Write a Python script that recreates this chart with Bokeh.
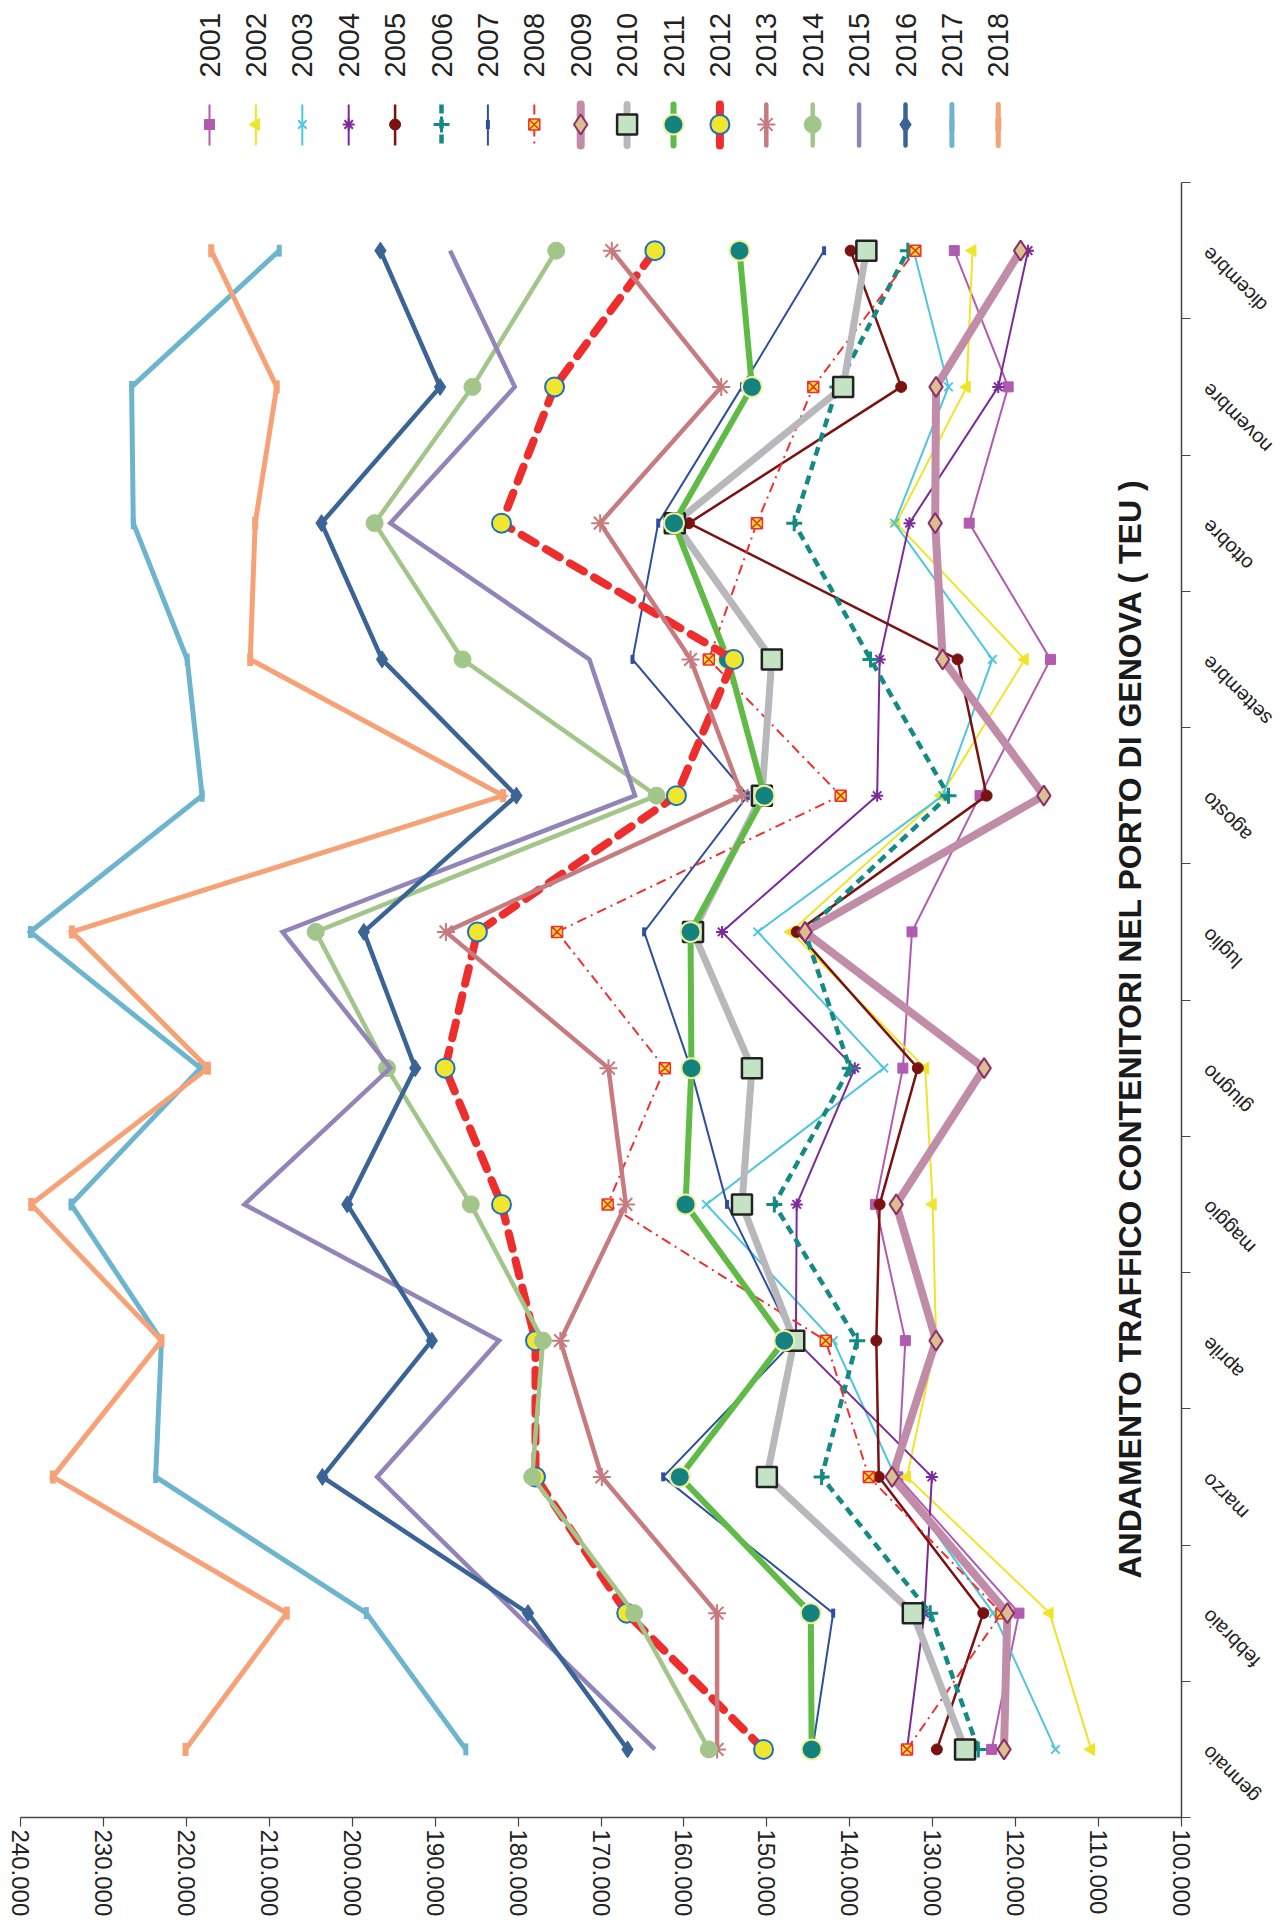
import math
from bokeh.plotting import figure
from bokeh.models import Range1d, FixedTicker, Label
from bokeh.layouts import column, row
from bokeh.embed import file_html
from bokeh.resources import INLINE
from bokeh.core.properties import value

# ---------------- data (thousand TEU) ----------------
months = ["gennaio", "febbraio", "marzo", "aprile", "maggio", "giugno",
          "luglio", "agosto", "settembre", "ottobre", "novembre", "dicembre"]

teu_2001 = [122.9, 119.6, 134.2, 133.3, 136.9, 133.6, 132.5, 124.3, 115.8, 125.6, 120.9, 127.4]
teu_2002 = [110.9, 115.9, 133.1, 129.6, 130.0, 130.9, 147.1, 129.0, 118.9, 134.4, 125.9, 125.2]
teu_2003 = [115.2, 122.7, 134.5, 142.0, 157.3, 135.9, 151.1, 128.8, 122.8, 134.6, 128.1, 132.3]
teu_2004 = [133.1, 131.0, 130.1, 146.5, 146.4, 139.4, 155.4, 136.7, 136.4, 132.8, 122.1, 118.5]
teu_2005 = [129.5, 123.9, 136.5, 136.8, 136.4, 131.8, 146.4, 123.5, 127.0, 159.4, 133.8, 139.9]
teu_2006 = [124.5, 130.3, 143.4, 139.1, 149.1, 140.0, 145.4, 128.1, 137.5, 146.7, 141.5, 133.0]
teu_2007 = [144.5, 142.0, 162.5, 146.7, 154.8, 159.2, 164.8, 152.3, 166.2, 163.1, 153.0, 143.1]
teu_2008 = [133.1, 121.7, 137.7, 142.9, 169.2, 162.3, 175.3, 141.1, 157.0, 151.2, 144.4, 132.1]
teu_2009 = [121.4, 121.0, 134.9, 129.6, 134.4, 123.8, 145.4, 116.6, 128.8, 129.7, 129.6, 119.4]
teu_2010 = [126.1, 132.4, 150.0, 146.7, 153.0, 151.8, 158.9, 150.6, 149.4, 161.1, 140.8, 138.0]
teu_2011 = [144.6, 144.7, 160.5, 147.9, 159.8, 159.1, 159.2, 150.3, 154.7, 161.2, 151.8, 153.3]
teu_2012 = [150.4, 166.9, 177.9, 177.9, 182.0, 188.8, 184.9, 160.9, 154.0, 182.0, 175.6, 163.5]
teu_2013 = [156.0, 156.0, 169.9, 174.9, 167.0, 169.1, 188.7, 153.0, 159.2, 170.1, 155.5, 168.7]
teu_2014 = [157.0, 166.0, 178.3, 177.0, 185.7, 195.8, 204.4, 163.3, 186.7, 197.3, 185.5, 175.4]
teu_2015 = [163.5, 180.3, 197.0, 182.3, 213.0, 195.4, 208.4, 165.9, 171.4, 195.4, 180.4, 188.2]
teu_2016 = [166.8, 178.8, 203.6, 190.4, 200.6, 192.4, 198.6, 180.2, 196.4, 203.7, 189.4, 196.6]
teu_2017 = [186.3, 198.3, 223.7, 223.0, 233.9, 218.3, 238.8, 218.1, 219.9, 226.4, 226.6, 208.8]
teu_2018 = [220.1, 207.9, 236.1, 223.0, 238.7, 217.4, 233.8, 181.8, 212.3, 211.7, 209.1, 217.0]

years = [2001, 2002, 2003, 2004, 2005, 2006, 2007, 2008, 2009,
         2010, 2011, 2012, 2013, 2014, 2015, 2016, 2017, 2018]
series = [teu_2001, teu_2002, teu_2003, teu_2004, teu_2005, teu_2006, teu_2007, teu_2008, teu_2009,
          teu_2010, teu_2011, teu_2012, teu_2013, teu_2014, teu_2015, teu_2016, teu_2017, teu_2018]

value_ticks = [100, 110, 120, 130, 140, 150, 160, 170, 180, 190, 200, 210, 220, 230, 240]
value_tick_labels = ["100.000", "110.000", "120.000", "130.000", "140.000", "150.000", "160.000",
                     "170.000", "180.000", "190.000", "200.000", "210.000", "220.000", "230.000", "240.000"]

title_text = "ANDAMENTO TRAFFICO CONTENITORI NEL PORTO DI GENOVA ( TEU )"

# ---------------- styles ----------------
H = math.pi / 2
STYLE = {
    2001: dict(c="#B15BAE", lw=2, dash="solid", mk="square", ms=10, fill="#B15BAE", ml="#B15BAE", mlw=1, ang=0),
    2002: dict(c="#F0E42A", lw=2, dash="solid", mk="triangle", ms=12, fill="#F0E42A", ml="#F0E42A", mlw=1, ang=H),
    2003: dict(c="#4FC6DD", lw=2, dash="solid", mk="x", ms=12, fill="#4FC6DD", ml="#4FC6DD", mlw=2, ang=0),
    2004: dict(c="#7A2A9A", lw=2, dash="solid", mk="asterisk", ms=12, fill="#7A2A9A", ml="#7A2A9A", mlw=2, ang=0),
    2005: dict(c="#7A1212", lw=2.5, dash="solid", mk="circle", ms=11, fill="#7A1212", ml="#7A1212", mlw=1, ang=0),
    2006: dict(c="#148A84", lw=4.5, dash="9 6", mk="cross", ms=16, fill="#148A84", ml="#148A84", mlw=3, ang=0),
    2007: dict(c="#2E4D9E", lw=2, dash="solid", mk="dash", ms=9, fill="#2E4D9E", ml="#2E4D9E", mlw=4, ang=H),
    2008: dict(c="#EE3030", lw=2, dash="10 5 2 5", mk="square_x", ms=11, fill="#F5E52E", ml="#EE3030", mlw=1.5, ang=0),
    2009: dict(c="#C08CA8", lw=8, dash="solid", mk="diamond", ms=20, fill="#D9C08E", ml="#8E2E6A", mlw=2, ang=0),
    2010: dict(c="#B8B8BC", lw=7, dash="solid", mk="square", ms=20, fill="#C4E3C4", ml="#222222", mlw=2.5, ang=0),
    2011: dict(c="#5FBB46", lw=6, dash="solid", mk="circle", ms=20, fill="#148380", ml="#F2F0A0", mlw=2, ang=0),
    2012: dict(c="#EE2D2D", lw=8, dash="16 12", mk="circle", ms=19, fill="#F0E62E", ml="#1F6FC0", mlw=2, ang=0),
    2013: dict(c="#C77B7E", lw=4.5, dash="solid", mk="asterisk", ms=18, fill="#C77B7E", ml="#C77B7E", mlw=2, ang=H),
    2014: dict(c="#A2C68A", lw=4.5, dash="solid", mk="circle", ms=17, fill="#A2C68A", ml="#A2C68A", mlw=1, ang=0),
    2015: dict(c="#9283B8", lw=4.5, dash="solid", mk=None, ms=0, fill=None, ml=None, mlw=0, ang=0),
    2016: dict(c="#3A6496", lw=4.5, dash="solid", mk="diamond", ms=17, fill="#3A6496", ml="#3A6496", mlw=1, ang=0),
    2017: dict(c="#6DB5CF", lw=5, dash="solid", mk="dash", ms=12, fill="#6DB5CF", ml="#6DB5CF", mlw=5, ang=H),
    2018: dict(c="#F6A276", lw=5, dash="solid", mk="dash", ms=13, fill="#F6A276", ml="#F6A276", mlw=6, ang=H),
}

FONT = "Liberation Sans"
FRAME_L, FRAME_R = 20, 1181      # plot frame left/right (page px)
LEG_H = 182                      # legend strip height
MAIN_H = 1925 - LEG_H
BOTTOM = 108                     # bottom border for value labels
RB = 14                          # right border of main plot (axis ticks)
P_W = FRAME_R + RB
MF_W = 1288 - P_W

# ---------------- main chart ----------------
p = figure(width=P_W, height=MAIN_H, x_range=Range1d(240, 100), y_range=Range1d(-0.5, 11.5),
           output_backend="svg", toolbar_location=None, y_axis_location="right",
           min_border_left=FRAME_L, min_border_right=RB, min_border_top=0, min_border_bottom=BOTTOM)
p.outline_line_color = None
p.grid.visible = False

xa = p.xaxis[0]
xa.ticker = FixedTicker(ticks=value_ticks, minor_ticks=[])
xa.major_label_overrides = {t: lab for t, lab in zip(value_ticks, value_tick_labels)}
xa.major_label_orientation = "vertical"
xa.major_label_text_font = FONT
xa.major_label_text_font_size = "24px"
xa.major_label_text_color = "#222222"
xa.major_label_standoff = 3
xa.major_tick_out = 9
xa.major_tick_in = 0
xa.minor_tick_out = 0
xa.axis_line_color = "#444444"
xa.axis_line_width = 1.5
xa.major_tick_line_color = "#444444"
xa.major_tick_line_width = 1.2

ya = p.yaxis[0]
month_pos = list(range(len(months)))
ya.ticker = FixedTicker(ticks=month_pos, minor_ticks=[i - 0.5 for i in range(len(months) + 1)])
ya.major_label_overrides = {i: "" for i in month_pos}
ya.major_label_text_font_size = "0px"
ya.major_label_standoff = 0
ya.major_tick_out = 0
ya.major_tick_in = 0
ya.minor_tick_out = 9
ya.minor_tick_in = 0
ya.minor_tick_line_color = "#444444"
ya.minor_tick_line_width = 1.2
ya.axis_line_color = "#444444"
ya.axis_line_width = 1.5

for yr, vals in zip(years, series):
    s = STYLE[yr]
    p.line(vals, month_pos, line_color=s["c"], line_width=s["lw"], line_dash=s["dash"],
           line_cap="round" if yr == 2012 else "butt", line_join="miter")
    if s["mk"]:
        p.scatter(vals, month_pos, marker=s["mk"], size=s["ms"], fill_color=s["fill"],
                  line_color=s["ml"], line_width=s["mlw"], angle=s["ang"])

p.add_layout(Label(x=106.2, y=5.29, text=title_text, angle=math.pi / 2,
                   text_align="center", text_baseline="middle",
                   text_font=FONT, text_font_style="bold",
                   text_font_size="32px", text_color="#1a1a1a"))

# ---------------- month labels (strip at right, shares y range) ----------------
mf = figure(width=MF_W, height=MAIN_H, x_range=Range1d(0, MF_W), y_range=p.y_range,
            output_backend="svg", toolbar_location=None, x_axis_location=None,
            y_axis_location=None, min_border_left=0, min_border_right=0,
            min_border_top=0, min_border_bottom=BOTTOM)
mf.outline_line_color = None
mf.grid.visible = False
mf.text(x=[1205 - P_W] * len(months), y=month_pos, text=months, angle=3 * math.pi / 4,
        text_align="right", text_baseline="middle", text_font=value(FONT),
        text_font_size="20px", text_color="#222222")

# ---------------- legend strip ----------------
lg = figure(width=P_W, height=LEG_H, x_range=Range1d(FRAME_L, FRAME_R), y_range=Range1d(LEG_H, 0),
            output_backend="svg", toolbar_location=None, x_axis_location=None,
            y_axis_location=None, min_border_left=FRAME_L, min_border_right=P_W - FRAME_R,
            min_border_top=0, min_border_bottom=0)
lg.outline_line_color = None
lg.grid.visible = False

lx0, ldx = 209, 46.4
for k, yr in enumerate(years):
    s = STYLE[yr]
    x = lx0 + ldx * k
    lg.add_layout(Label(x=x, y=77, text=str(yr), angle=math.pi / 2, text_align="left",
                        text_baseline="middle", text_font=FONT, text_font_size="29px",
                        text_color="#222222"))
    lg.segment(x0=[x], y0=[104], x1=[x], y1=[145], line_color=s["c"],
               line_width=min(s["lw"], 8), line_dash=s["dash"],
               line_cap="round" if s["lw"] >= 4 and yr != 2006 else "butt")
    if s["mk"]:
        lg.scatter([x], [124], marker=s["mk"], size=s["ms"], fill_color=s["fill"],
                   line_color=s["ml"], line_width=s["mlw"], angle=s["ang"])

layout = column(lg, row(p, mf, spacing=0), spacing=0)
open("out.html", "w").write(file_html(layout, INLINE))
